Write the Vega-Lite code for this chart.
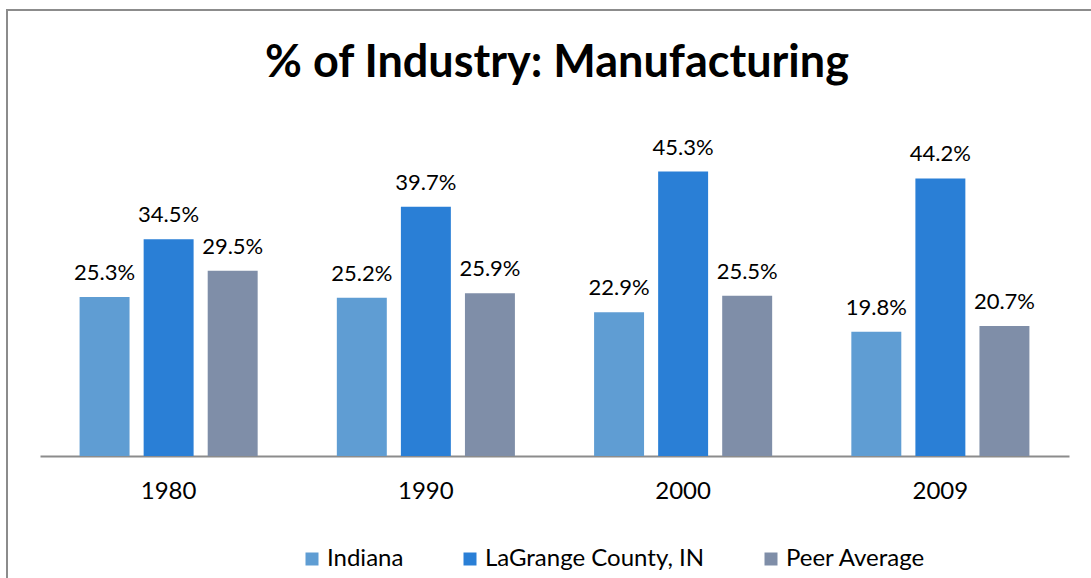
{
  "$schema": "https://vega.github.io/schema/vega-lite/v6.json",
  "width": 1100,
  "height": 620,
  "autosize": {"type": "none"},
  "padding": {"left": 7, "top": 10, "right": 0, "bottom": 0},
  "background": "white",
  "view": {"stroke": "#8c8c8c", "strokeWidth": 2, "fill": "white"},
  "title": {
    "text": "% of Industry: Manufacturing",
    "font": "Lato",
    "fontWeight": "bold",
    "fontSize": 45,
    "color": "black",
    "anchor": "middle",
    "frame": "group",
    "baseline": "alphabetic",
    "offset": -112
  },
  "data": {
    "values": [
      {"year": "1980", "series": "Indiana", "value": 0.253},
      {"year": "1980", "series": "LaGrange County, IN", "value": 0.345},
      {"year": "1980", "series": "Peer Average", "value": 0.295},
      {"year": "1990", "series": "Indiana", "value": 0.252},
      {"year": "1990", "series": "LaGrange County, IN", "value": 0.397},
      {"year": "1990", "series": "Peer Average", "value": 0.259},
      {"year": "2000", "series": "Indiana", "value": 0.229},
      {"year": "2000", "series": "LaGrange County, IN", "value": 0.453},
      {"year": "2000", "series": "Peer Average", "value": 0.255},
      {"year": "2009", "series": "Indiana", "value": 0.198},
      {"year": "2009", "series": "LaGrange County, IN", "value": 0.442},
      {"year": "2009", "series": "Peer Average", "value": 0.207}
    ]
  },
  "encoding": {
    "x": {
      "field": "year",
      "type": "nominal",
      "scale": {"range": [33, 1062], "paddingInner": 0, "paddingOuter": 0},
      "axis": {
        "title": null,
        "ticks": false,
        "domainColor": "#8c8c8c",
        "domainWidth": 2,
        "labelFont": "Lato",
        "labelFontSize": 24,
        "labelColor": "black",
        "labelPadding": 23,
        "labelAngle": 0,
        "offset": -174
      }
    },
    "xOffset": {
      "field": "series",
      "type": "nominal",
      "sort": ["Indiana", "LaGrange County, IN", "Peer Average"],
      "scale": {"paddingInner": 0.22, "paddingOuter": 0.618}
    },
    "y": {
      "field": "value",
      "type": "quantitative",
      "scale": {"domain": [0, 0.5], "range": [446, 132], "nice": false, "zero": true},
      "axis": null
    }
  },
  "layer": [
    {
      "mark": {"type": "bar"},
      "encoding": {
        "color": {
          "field": "series",
          "type": "nominal",
          "scale": {
            "domain": ["Indiana", "LaGrange County, IN", "Peer Average"],
            "range": ["#5f9dd3", "#2a7fd6", "#7f8ea8"]
          },
          "legend": {
            "title": null,
            "orient": "none",
            "direction": "horizontal",
            "legendX": 293,
            "legendY": 537,
            "symbolType": "square",
            "symbolSize": 169,
            "symbolStrokeWidth": 0,
            "labelFont": "Lato",
            "labelFontSize": 24,
            "labelColor": "black",
            "labelOffset": 3,
            "labelLimit": 500,
            "columnPadding": 54,
            "padding": 0
          }
        }
      }
    },
    {
      "mark": {
        "type": "text",
        "baseline": "alphabetic",
        "dy": -17,
        "font": "Lato",
        "fontSize": 22,
        "color": "black"
      },
      "encoding": {
        "text": {"field": "value", "type": "quantitative", "format": ".1%"}
      }
    }
  ]
}
